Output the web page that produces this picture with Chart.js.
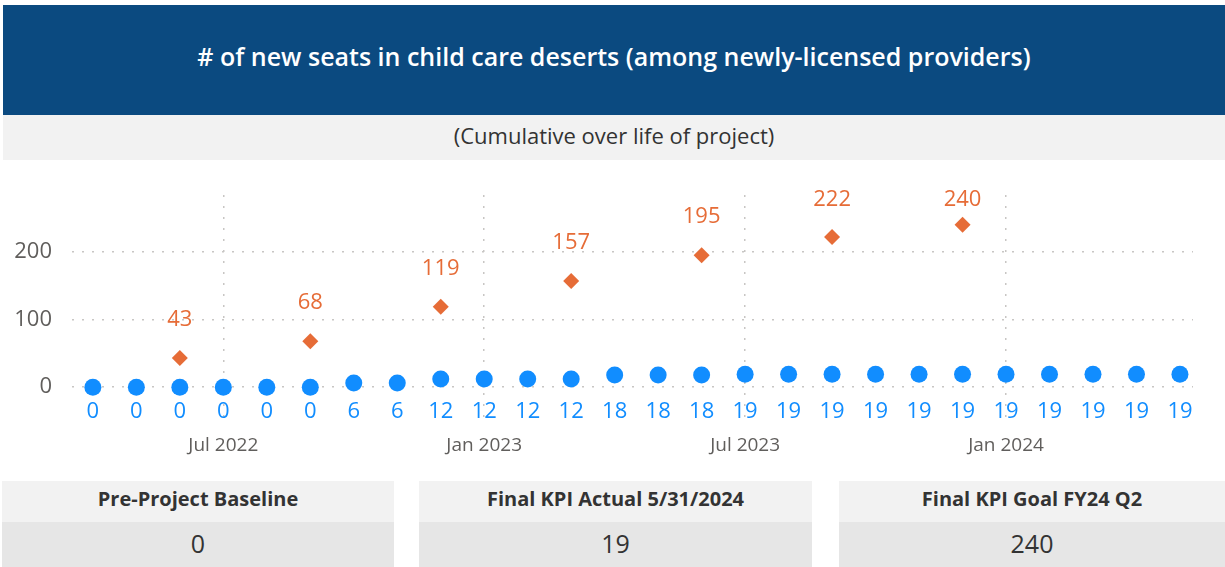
<!DOCTYPE html>
<html>
<head>
<meta charset="utf-8">
<script src="https://cdn.jsdelivr.net/npm/chart.js@4/dist/chart.umd.min.js"></script>
<style>
  body { margin: 0; width: 1225px; height: 567px; background: #fff; overflow: hidden; font-family: "Open Sans", sans-serif; position: relative; }
  .title { position: absolute; left: 3px; top: 5px; width: 1222px; height: 110px; box-sizing: border-box; padding-bottom: 8px; background: #0B4A80; color: #fff; font-weight: 600; font-size: 25px; display: flex; align-items: center; justify-content: center; }
  .subtitle { position: absolute; left: 3px; top: 115px; width: 1222px; height: 45px; box-sizing: border-box; padding-bottom: 5px; background: #F2F2F2; color: #333; font-size: 22px; display: flex; align-items: center; justify-content: center; }
  .chart-box { position: absolute; left: 0; top: 160px; width: 1225px; height: 300px; }
  .card { position: absolute; top: 481px; height: 86px; }
  .card .lbl { height: 41px; box-sizing: border-box; padding-bottom: 6px; background: #F2F2F2; color: #333; font-weight: 700; font-size: 20px; display: flex; align-items: center; justify-content: center; }
  .card .val { height: 45px; box-sizing: border-box; padding-bottom: 3px; background: #E6E6E6; color: #333; font-size: 25px; display: flex; align-items: center; justify-content: center; }
</style>
</head>
<body>
<div class="title"># of new seats in child care deserts (among newly-licensed providers)</div>
<div class="subtitle">(Cumulative over life of project)</div>
<div class="chart-box"><canvas id="seats-chart"></canvas></div>
<div class="card" style="left:2px;width:392px"><div class="lbl">Pre-Project Baseline</div><div class="val">0</div></div>
<div class="card" style="left:419px;width:393px"><div class="lbl">Final KPI Actual 5/31/2024</div><div class="val">19</div></div>
<div class="card" style="left:839px;width:386px"><div class="lbl">Final KPI Goal FY24 Q2</div><div class="val">240</div></div>

<script>
var months = ["Apr 2022", "May 2022", "Jun 2022", "Jul 2022", "Aug 2022", "Sep 2022",
    "Oct 2022", "Nov 2022", "Dec 2022", "Jan 2023", "Feb 2023", "Mar 2023",
    "Apr 2023", "May 2023", "Jun 2023", "Jul 2023", "Aug 2023", "Sep 2023",
    "Oct 2023", "Nov 2023", "Dec 2023", "Jan 2024", "Feb 2024", "Mar 2024",
    "Apr 2024", "May 2024"];
var actualSeats = [0, 0, 0, 0, 0, 0, 6, 6, 12, 12, 12, 12, 18, 18, 18,
    19, 19, 19, 19, 19, 19, 19, 19, 19, 19, 19];
var goalSeats = [null, null, 43, null, null, 68, null, null, 119, null, null, 157,
    null, null, 195, null, null, 222, null, null, 240, null, null, null, null, null];
var xTickLabels = ["Jul 2022", "Jan 2023", "Jul 2023", "Jan 2024"];
var yTickValues = [0, 100, 200];

var blue = "#118DFF";
var orange = "#E66C37";
var gridColor = "#C8C6C4";

function toPoints(values) {
    var pts = [];
    values.forEach(function (v, i) {
        if (v !== null) pts.push({ x: i, y: v });
    });
    return pts;
}

// draws the value labels, goal above the diamonds, actual in a row under the axis
var valueLabels = {
    id: "valueLabels",
    afterDatasetsDraw: function (chart) {
        var ctx = chart.ctx;
        var area = chart.chartArea;
        var yScale = chart.scales.y;
        ctx.save();
        ctx.textAlign = "center";
        ctx.textBaseline = "middle";
        ctx.font = "22px 'Open Sans'";
        chart.data.datasets.forEach(function (ds, di) {
            var meta = chart.getDatasetMeta(di);
            meta.data.forEach(function (el, i) {
                var v = ds.data[i].y;
                var y;
                if (ds.label === "Goal") {
                    y = Math.max(el.y - 38, area.top + 5);
                } else {
                    y = yScale.getPixelForValue(0) + 25;
                }
                ctx.fillStyle = ds.borderColor;
                ctx.fillText(String(v), el.x, y);
            });
        });
        ctx.restore();
    }
};

var seatsCanvas = document.getElementById("seats-chart");

var seatsChart = new Chart(seatsCanvas, {
    type: "line",
    data: {
        datasets: [
            {
                label: "Goal",
                data: toPoints(goalSeats),
                showLine: false,
                pointStyle: "rectRot",
                pointRadius: 8,
                backgroundColor: orange,
                borderColor: orange,
                borderWidth: 0,
            },
            {
                label: "Actual",
                data: toPoints(actualSeats),
                showLine: false,
                pointStyle: "circle",
                pointRadius: 8.5,
                backgroundColor: blue,
                borderColor: blue,
                borderWidth: 0,
            },
        ],
    },
    options: {
        responsive: true,
        maintainAspectRatio: false,
        animation: false,
        layout: { padding: { top: 35, right: 32, left: 0, bottom: 0 } },
        plugins: {
            legend: { display: false },
            tooltip: { enabled: false },
        },
        scales: {
            x: {
                type: "linear",
                min: -0.48,
                max: 25.3,
                afterBuildTicks: function (scale) {
                    scale.ticks = xTickLabels.map(function (l) {
                        return { value: months.indexOf(l) };
                    });
                },
                afterFit: function (scale) {
                    scale.height = 37;
                },
                ticks: {
                    callback: function (value) {
                        return months[value];
                    },
                    color: "#605E5C",
                    font: { family: "Open Sans", size: 19 },
                    padding: 11,
                    maxRotation: 0,
                    autoSkip: false,
                },
                grid: {
                    color: gridColor,
                    lineWidth: 1.5,
                    drawTicks: false,
                },
                border: { display: false, dash: [2, 9] },
            },
            y: {
                min: -53,
                max: 284,
                afterBuildTicks: function (scale) {
                    scale.ticks = yTickValues.map(function (v) {
                        return { value: v };
                    });
                },
                afterFit: function (scale) {
                    scale.width = 72;
                },
                ticks: {
                    color: "#605E5C",
                    font: { family: "Open Sans", size: 22 },
                    padding: 20,
                },
                grid: {
                    color: gridColor,
                    lineWidth: 1.5,
                    drawTicks: false,
                },
                border: { display: false, dash: [2, 8] },
            },
        },
    },
    plugins: [valueLabels],
});
</script>
</body>
</html>
